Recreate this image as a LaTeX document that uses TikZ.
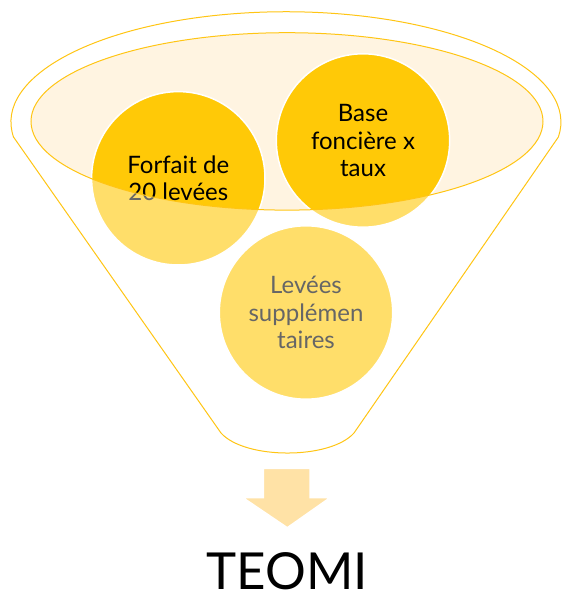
\documentclass[tikz,border=0pt]{standalone}
\usepackage{fontspec}
\setmainfont{Lato}
\definecolor{gold}{HTML}{FFC907}
\definecolor{rimyellow}{HTML}{FFC514}
\definecolor{cream}{HTML}{FFF4E1}
\definecolor{paleorange}{HTML}{FFE2A6}
\tikzstyle{bubble} = [circle, draw=white, line width=1.5pt, fill=gold,
    minimum size=173.4pt, inner sep=0pt, align=center,
    font=\fontsize{24}{27.5}\selectfont]
\tikzstyle{rim} = [draw=rimyellow, line width=1pt]
\tikzstyle{bigarrow} = [draw=white, line width=1.5pt, fill=paleorange]

\begin{document}
\begin{tikzpicture}[x=1pt, y=-1pt]
    \useasboundingbox (0,0) rectangle (562,595);

    % inner rim of the funnel
    \fill[cream] (287,121.4) ellipse [x radius=256, y radius=88.7];

    \node[bubble] (forfait) at (178.3,178.3) {Forfait de\\20 levées};
    \node[bubble] (base) at (363,140.5) {Base\\foncière x\\taux};
    \node[bubble] (levees) at (306,312.5) {Levées\\supplémen\\taires};

    % body of the funnel washes out what falls below the rim
    \fill[white, fill opacity=0.4, even odd rule] (287,121.4) ellipse [x radius=256, y radius=88.7]
        (0,0) rectangle (562,460);

    \draw[rim] (287,121.4) ellipse [x radius=256, y radius=88.7];
    \draw[rim] (13.5,137) arc [start angle=172.2, end angle=367.8, x radius=275, y radius=110.3]
        -- (354,433) .. controls (330,459.7) and (245,459.7) .. (221,433) -- cycle;

    \draw[bigarrow] (263.3,468.3) -- (310,468.3) -- (310,497.7) -- (330,497.7)
        -- (287.3,527.7) -- (243,497.7) -- (263.3,497.7) -- cycle;

    \node[anchor=base, inner sep=0pt, font=\fontsize{51}{60}\selectfont] (teomi) at (287,589) {TEOMI};
\end{tikzpicture}
\end{document}
